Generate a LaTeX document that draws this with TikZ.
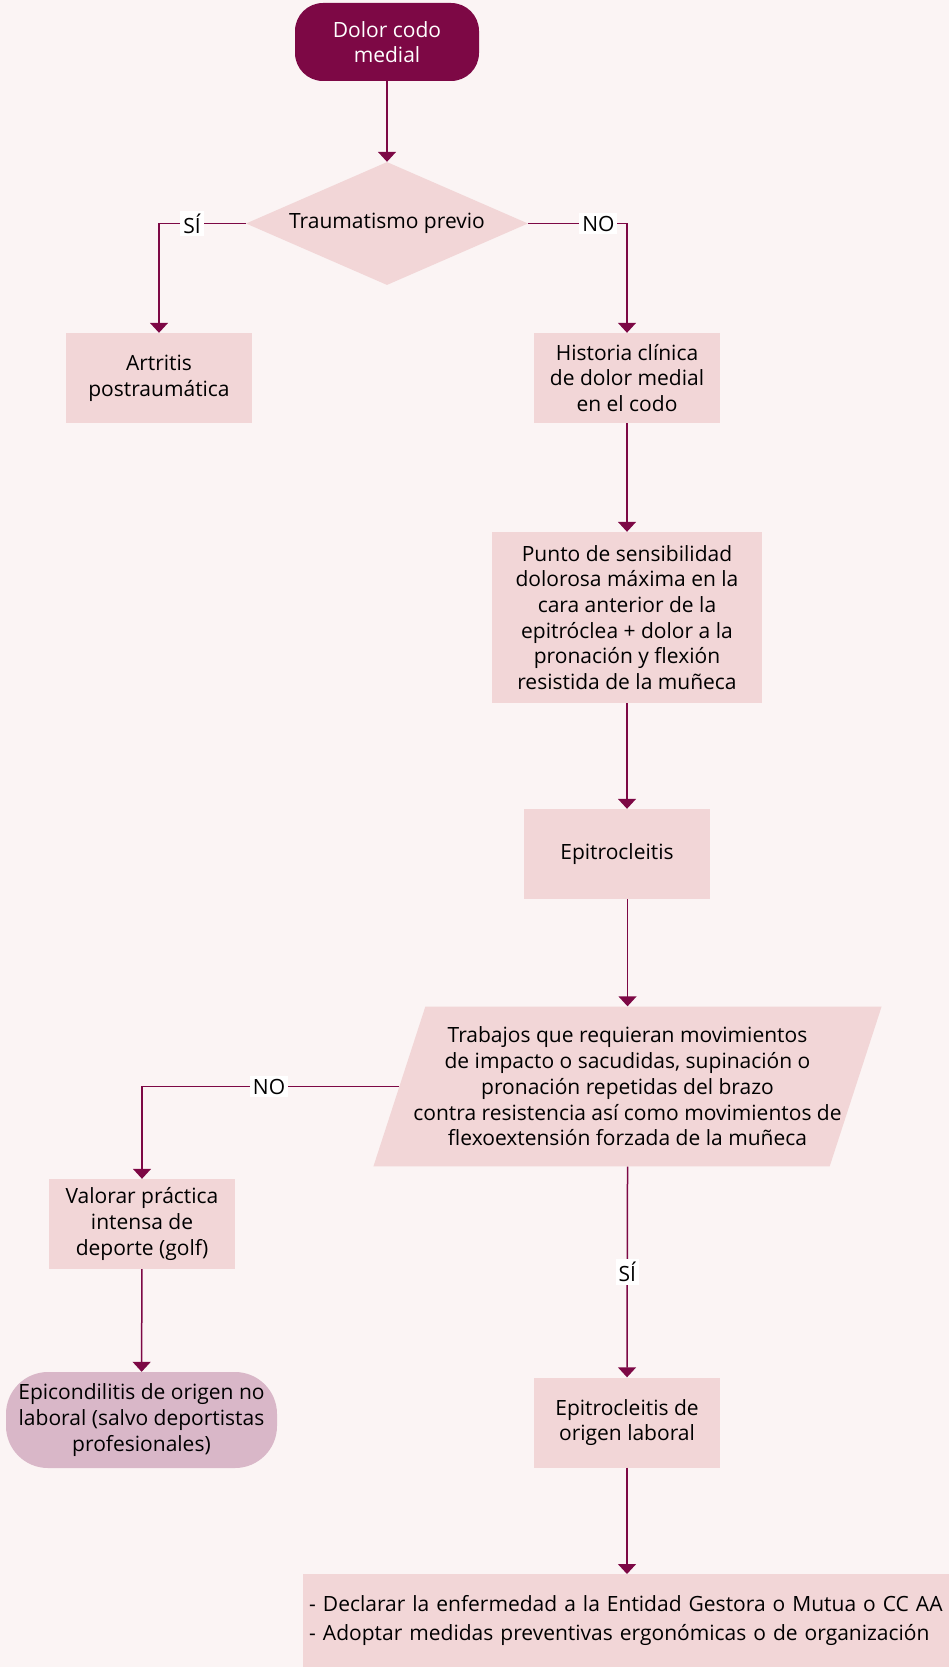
\documentclass[tikz,border=0pt]{standalone}
\usepackage{fontspec}
\setmainfont{Open Sans}
\usetikzlibrary{shapes.geometric,arrows.meta,positioning}
\definecolor{granate}{HTML}{7D0845}
\definecolor{rosa}{HTML}{F2D6D7}
\definecolor{malva}{HTML}{D9B7C8}
\definecolor{fondo}{HTML}{FBF4F4}

\begin{document}
\begin{tikzpicture}[x=1pt, y=-1pt,
    every node/.style={font=\fontsize{21}{25.7}\selectfont},
    caja/.style={rectangle, fill=rosa, minimum width=186pt, minimum height=90pt, align=center, inner sep=4pt},
    flecha/.style={draw=granate, line width=1.5pt, -{Triangle[width=18pt,length=10pt]}},
    etiq/.style={fill=white, inner sep=3pt}]

    \fill[fondo] (0,0) rectangle (949,1667);
    \useasboundingbox (0,0) rectangle (949,1667);

    \node[rectangle, rounded corners=28pt, fill=granate, text=white, minimum width=184pt, minimum height=78pt, align=center] (inicio) at (387,42) {Dolor codo\\medial};

    \node[diamond, fill=rosa, inner sep=0pt, shape aspect=2.3, minimum width=282pt, minimum height=123pt] (trauma) at (387,223.5) {Traumatismo previo};

    \node[caja] (artritis) at (159,378) {Artritis\\postraumática};
    \node[caja] (historia) at (627,378) {Historia clínica\\de dolor medial\\en el codo};

    \node[caja, minimum width=270pt, minimum height=171pt] (punto) at (627,617.5) {Punto de sensibilidad\\dolorosa máxima en la\\cara anterior de la\\epitróclea + dolor a la\\pronación y flexión\\resistida de la muñeca};

    \node[caja] (epitro) at (617,854) {Epitrocleitis};

    \node[trapezium, trapezium left angle=72, trapezium right angle=108, fill=rosa, align=center, inner xsep=-12pt, inner ysep=20.5pt] (trabajos) at (627.5,1086.5) {Trabajos que requieran movimientos\\de impacto o sacudidas, supinación o\\pronación repetidas del brazo\\contra resistencia así como movimientos de\\flexoextensión forzada de la muñeca};

    \node[caja] (valorar) at (142,1224) {Valorar práctica\\intensa de\\deporte (golf)};
    \node[rectangle, rounded corners=42pt, fill=malva, minimum width=271pt, minimum height=96pt, align=center] (epicon) at (141.5,1420) {Epicondilitis de origen no\\laboral (salvo deportistas\\profesionales)};

    \node[caja] (laboral) at (627,1422.5) {Epitrocleitis de\\origen laboral};

    \node[rectangle, fill=rosa, anchor=north west, minimum height=93pt, text width=634pt, inner xsep=6pt, align=left, font=\fontsize{21}{28.7}\selectfont] (medidas) at (303,1574) {- Declarar la enfermedad a la Entidad Gestora o Mutua o CC AA\\- Adoptar medidas preventivas ergonómicas o de organización};

    % conectores
    \draw[flecha] (inicio) -- (trauma);
    \draw[flecha] (trauma.west) -| node[etiq, pos=0.31] (si1) {SÍ} (artritis.north);
    \draw[flecha] (trauma.east) -| node[etiq, pos=0.355] (no1) {NO} (historia.north);
    \draw[flecha] (historia) -- (punto);
    \draw[flecha] (punto.south) -- (punto.south |- epitro.north);
    \draw[flecha] (epitro.south -| trabajos.north) -- (trabajos.north);
    \draw[flecha] (trabajos.west) -| node[etiq, pos=0.253] (no2) {NO} (valorar.north);
    \draw[flecha] (trabajos.south) -- node[etiq] (si2) {SÍ} (laboral.north);
    \draw[flecha] (valorar) -- (epicon);
    \draw[flecha] (laboral.south) -- (laboral.south |- medidas.north);
\end{tikzpicture}
\end{document}
